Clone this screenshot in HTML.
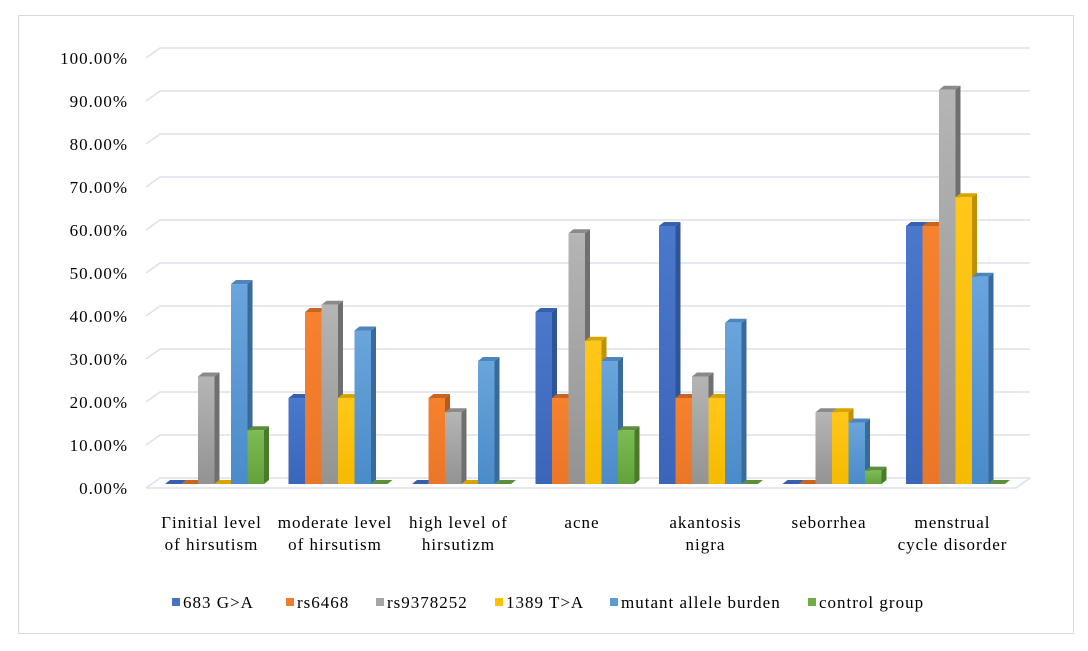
<!DOCTYPE html>
<html><head><meta charset="utf-8"><style>
body{margin:0;background:#fff;}
svg text{font-family:"Liberation Serif",serif;fill:#000;letter-spacing:1px;}
</style></head><body>
<svg id="chart" width="1088" height="646" xmlns="http://www.w3.org/2000/svg">
<defs>
<linearGradient id="gb0" x1="0" y1="0" x2="0" y2="1"><stop offset="0" stop-color="#4a78cc"/><stop offset="1" stop-color="#3a66ba"/></linearGradient>
<linearGradient id="gb1" x1="0" y1="0" x2="0" y2="1"><stop offset="0" stop-color="#f6822f"/><stop offset="1" stop-color="#ea7628"/></linearGradient>
<linearGradient id="gb2" x1="0" y1="0" x2="0" y2="1"><stop offset="0" stop-color="#b5b5b5"/><stop offset="1" stop-color="#939393"/></linearGradient>
<linearGradient id="gb3" x1="0" y1="0" x2="0" y2="1"><stop offset="0" stop-color="#ffc71a"/><stop offset="1" stop-color="#f5bb00"/></linearGradient>
<linearGradient id="gb4" x1="0" y1="0" x2="0" y2="1"><stop offset="0" stop-color="#6aa5dc"/><stop offset="1" stop-color="#4a8bc9"/></linearGradient>
<linearGradient id="gb5" x1="0" y1="0" x2="0" y2="1"><stop offset="0" stop-color="#7dbb55"/><stop offset="1" stop-color="#63a23a"/></linearGradient>
</defs>
<rect x="18.5" y="15.5" width="1055" height="618" fill="#fff" stroke="#d9d9d9"/>
<g id="grid"></g><g id="bars"></g><g id="labels"></g><g id="legend"></g>
</svg>
<script>
const categories=[["Гinitial level","of hirsutism"],["moderate level","of hirsutism"],["high level of","hirsutizm"],["acne",""],["akantosis","nigra"],["seborrhea",""],["menstrual","cycle disorder"]];
const seriesNames=["683 G>A","rs6468","rs9378252","1389 T>A","mutant allele burden","control group"];
const s683=[0,20,0,40,60,0,60];
const sRs6468=[0,40,20,20,20,0,60];
const sRs9378252=[25,41.7,16.7,58.3,25,16.7,91.7];
const s1389=[0,20,0,33.3,20,16.7,66.7];
const sMutant=[46.5,35.7,28.6,28.6,37.5,14.3,48.2];
const sControl=[12.5,0,0,12.5,0,3.1,0];
const ticks=[0,10,20,30,40,50,60,70,80,90,100];
const series=[s683,sRs6468,sRs9378252,s1389,sMutant,sControl];
const front=["#4472C4","#ED7D31","#A5A5A5","#FFC000","#5B9BD5","#70AD47"];
const side=["#2f5597","#b85a1c","#6f6f6f","#bf9000","#386a9c","#4a7a2c"];
const top_=["#3560ad","#c9651f","#8a8a8a","#d9a300","#4d86bd","#5c8f3c"];
const NS="http://www.w3.org/2000/svg";
function el(t,a,p){const e=document.createElementNS(NS,t);for(const k in a)e.setAttribute(k,a[k]);p.appendChild(e);return e;}
const yBack=v=>478-v*4.3, yFront=v=>484-v*4.3;
const gx0=165, gPitch=123.5, bw=16.5, dx=5, dy=4;
const grid=document.getElementById('grid');
ticks.forEach(t=>{
 const y=yBack(t);
 const l=el('polyline',{points:`146,${y+10} 160,${y} 1030,${y}`,fill:'none',stroke:'#dde1ea','stroke-width':1.6},grid);
 
 
 const tx=el('text',{x:128,y:y+16,'text-anchor':'end','font-size':17},grid);
 tx.textContent=t.toFixed(2)+'%';
 
 
});
const floor=el('polyline',{points:`146,488 1016,488 1030,478`,fill:'none',stroke:'#dde1ea','stroke-width':1.6},grid);


const bars=document.getElementById('bars');
categories.forEach((c,i)=>{
 series.forEach((s,j)=>{
  const v=s[i]; const x=gx0+i*gPitch+j*bw; const yt=yFront(v), yb=yFront(0);
  const g=el('g',{},bars);
  
  
  el('polygon',{points:`${x+bw},${yt} ${x+bw+dx},${yt-dy} ${x+bw+dx},${yb-dy} ${x+bw},${yb}`,fill:side[j]},g);
  el('polygon',{points:`${x},${yt} ${x+dx},${yt-dy} ${x+bw+dx},${yt-dy} ${x+bw},${yt}`,fill:top_[j]},g);
  if(v>0) el('rect',{x:x,y:yt,width:bw,height:yb-yt,fill:'url(#gb'+j+')'},g);
 });
 const cx=gx0+i*gPitch+3*bw-3;
 c.forEach((ln,k)=>{ if(!ln)return;
  const t=el('text',{x:cx,y:528+k*22,'text-anchor':'middle','font-size':17},document.getElementById('labels'));
  t.textContent=ln;
  
  
 });
});
const lg=document.getElementById('legend');
const lx=[172,286,376,495,610,808];
seriesNames.forEach((n,j)=>{
 const g=el('g',{},lg);
 
 
 el('rect',{x:lx[j],y:598,width:8,height:8,fill:front[j]},g);
 const t=el('text',{x:lx[j]+11,y:608,'font-size':17},g);
 t.textContent=n;
});
</script>
</body></html>
